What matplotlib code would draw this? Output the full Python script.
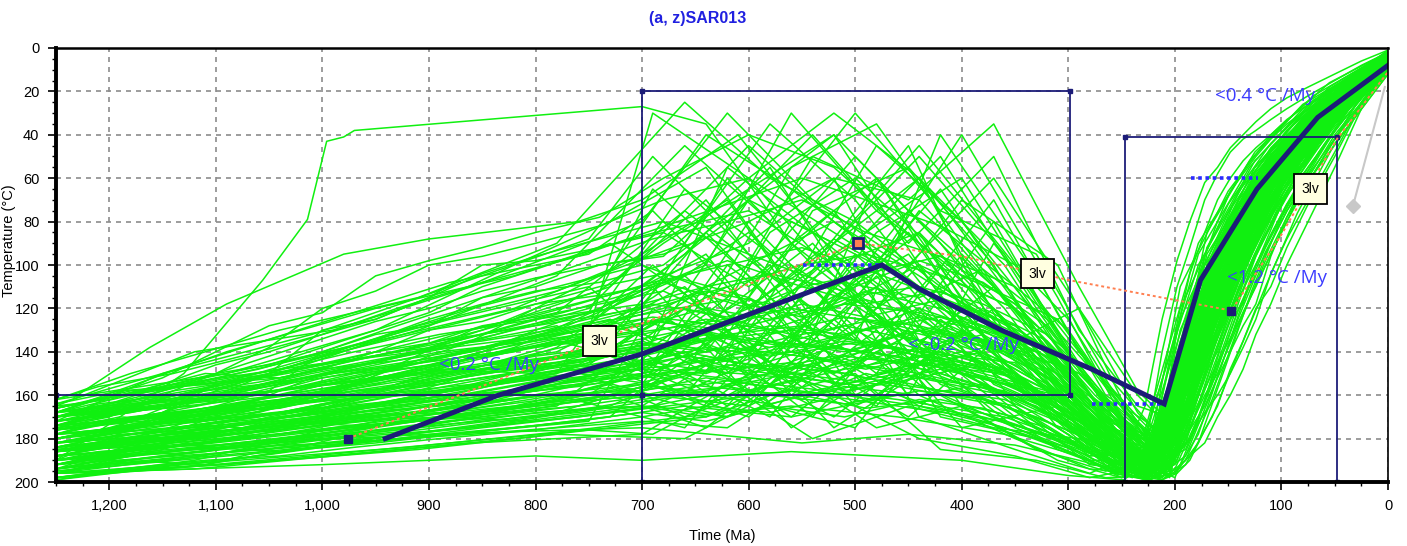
import numpy as np
import matplotlib.pyplot as plt
from matplotlib.ticker import MultipleLocator, FuncFormatter

plt.rcParams['font.family'] = ['Liberation Sans Narrow', 'Liberation Sans', 'DejaVu Sans']

# --- Time nodes (Ma) for the families of modelled paths
t1 = [1250, 1120, 990, 860, 700, 620, 540, 450, 370, 290, 235, 205, 170, 125, 70, 0]
t2 = [1250, 1180, 1040, 910, 780, 660, 580, 500, 420, 330, 265, 215, 185, 140, 95, 40, 0]
t3 = [1250, 1090, 950, 820, 730, 640, 560, 480, 400, 310, 250, 222, 195, 150, 110, 55, 0]
t4 = [1250, 1150, 1010, 880, 750, 690, 600, 520, 440, 350, 280, 228, 178, 130, 80, 0]
t5 = [1250, 1190, 1110, 1040, 970, 890, 800, 700, 640, 580, 510, 440, 380, 320, 275, 240,
      212, 190, 165, 140, 115, 85, 50, 0]
t6 = [1250, 1210, 1140, 1060, 1000, 930, 850, 760, 690, 620, 550, 490, 420, 350, 300, 258,
      226, 200, 178, 152, 128, 100, 65, 30, 0]
t7 = [1250, 1080, 920, 760, 660, 560, 460, 360, 290, 250, 228, 212, 198, 186, 172, 160,
      148, 136, 124, 110, 95, 75, 50, 25, 0]
t8 = [1250, 1200, 1150, 1100, 1050, 1000, 950, 900, 850, 800, 740, 680, 600, 520, 440, 360,
      300, 255, 225, 205, 185, 160, 130, 100, 60, 0]

# temperatures (°C) at those nodes
paths1 = [
    [185, 178, 170, 160, 150, 120, 90, 140, 110, 160, 185, 190, 120, 70, 35, 6],
    [195, 188, 180, 175, 165, 140, 170, 120, 150, 175, 190, 180, 110, 62, 30, 5],
    [170, 160, 150, 140, 120, 60, 100, 45, 130, 150, 175, 195, 130, 80, 38, 8],
    [178, 175, 168, 155, 135, 150, 110, 160, 90, 140, 170, 185, 100, 55, 25, 3],
    [165, 140, 130, 110, 80, 30, 70, 100, 60, 120, 160, 175, 95, 60, 28, 4],
    [190, 185, 182, 178, 172, 175, 150, 130, 170, 185, 195, 188, 140, 90, 42, 10],
    [198, 190, 175, 170, 155, 100, 130, 75, 110, 155, 180, 198, 125, 75, 36, 7],
    [182, 172, 165, 150, 140, 165, 120, 95, 145, 165, 185, 178, 105, 58, 27, 4],
    [175, 168, 160, 130, 110, 80, 40, 90, 50, 130, 165, 170, 85, 48, 22, 2],
    [188, 183, 176, 168, 158, 130, 160, 150, 120, 170, 192, 193, 135, 85, 40, 9],
    [170, 165, 150, 142, 130, 110, 145, 170, 135, 150, 178, 182, 115, 65, 33, 6],
    [192, 180, 172, 165, 145, 55, 85, 120, 70, 140, 172, 186, 118, 68, 32, 5],
    [168, 162, 155, 148, 125, 140, 75, 55, 100, 165, 188, 176, 102, 60, 30, 6],
    [196, 194, 188, 182, 178, 155, 180, 165, 175, 180, 197, 191, 145, 95, 44, 11],
    [180, 170, 158, 135, 95, 70, 125, 85, 140, 120, 168, 184, 112, 64, 31, 5],
    [186, 176, 169, 162, 148, 125, 100, 135, 80, 148, 182, 194, 128, 78, 37, 7],
    [174, 158, 140, 120, 100, 115, 50, 70, 35, 110, 158, 172, 92, 52, 24, 3],
    [194, 186, 178, 168, 160, 170, 140, 110, 155, 172, 186, 189, 132, 82, 39, 8],
]
paths2 = [
    [176, 172, 160, 150, 140, 110, 150, 95, 130, 140, 170, 188, 150, 90, 55, 25, 5],
    [190, 186, 178, 170, 160, 175, 130, 145, 100, 150, 182, 196, 165, 100, 60, 28, 6],
    [168, 160, 148, 130, 105, 45, 80, 30, 75, 95, 150, 178, 135, 80, 48, 20, 3],
    [184, 180, 170, 162, 150, 130, 100, 160, 140, 175, 188, 182, 125, 72, 42, 18, 2],
    [196, 190, 182, 176, 168, 150, 170, 120, 160, 185, 195, 190, 170, 110, 68, 32, 8],
    [172, 168, 155, 140, 128, 160, 115, 90, 50, 120, 165, 184, 145, 88, 52, 24, 4],
    [180, 174, 165, 158, 138, 95, 55, 115, 155, 170, 184, 194, 160, 96, 58, 27, 6],
    [162, 150, 130, 115, 90, 25, 60, 80, 110, 135, 172, 180, 120, 70, 40, 17, 2],
    [188, 182, 176, 168, 155, 140, 165, 175, 125, 160, 190, 198, 175, 115, 72, 35, 10],
    [178, 170, 162, 150, 135, 150, 85, 60, 95, 150, 178, 186, 140, 84, 50, 22, 4],
    [194, 188, 180, 172, 165, 120, 145, 100, 170, 180, 193, 188, 155, 94, 56, 26, 6],
    [166, 158, 152, 140, 122, 75, 105, 135, 40, 105, 160, 176, 118, 66, 38, 15, 1],
    [186, 178, 168, 155, 145, 170, 155, 130, 150, 165, 186, 192, 162, 102, 62, 29, 7],
    [174, 166, 150, 128, 112, 90, 35, 70, 120, 140, 174, 183, 130, 76, 45, 20, 3],
    [199, 195, 190, 185, 178, 180, 160, 150, 185, 190, 198, 197, 180, 120, 75, 38, 12],
    [182, 176, 160, 145, 130, 105, 140, 110, 65, 130, 168, 185, 148, 86, 53, 23, 4],
    [170, 164, 158, 150, 142, 135, 120, 165, 145, 160, 180, 190, 158, 98, 60, 27, 5],
    [192, 184, 174, 160, 150, 65, 95, 50, 90, 145, 176, 194, 168, 106, 64, 30, 7],
]
paths3 = [
    [188, 175, 162, 150, 142, 160, 100, 125, 150, 170, 190, 196, 150, 92, 58, 26, 5],
    [172, 155, 140, 125, 110, 70, 120, 150, 95, 140, 180, 190, 130, 80, 48, 20, 3],
    [195, 188, 182, 175, 170, 130, 155, 60, 115, 160, 185, 193, 160, 98, 60, 28, 6],
    [180, 165, 150, 135, 125, 150, 80, 100, 40, 115, 170, 184, 120, 72, 44, 18, 2],
    [166, 150, 135, 120, 102, 40, 65, 95, 130, 155, 178, 195, 145, 88, 54, 24, 4],
    [190, 184, 176, 168, 160, 175, 145, 165, 120, 175, 194, 188, 165, 104, 63, 30, 8],
    [176, 168, 155, 138, 118, 100, 30, 75, 105, 125, 165, 180, 110, 66, 40, 16, 2],
    [184, 178, 170, 162, 152, 120, 140, 110, 165, 180, 192, 197, 170, 108, 66, 32, 9],
    [162, 150, 130, 100, 80, 55, 110, 45, 80, 135, 172, 186, 138, 84, 50, 22, 3],
    [198, 190, 180, 172, 165, 145, 170, 140, 155, 185, 196, 199, 178, 114, 70, 34, 10],
    [178, 170, 158, 148, 135, 85, 125, 160, 130, 150, 182, 189, 142, 86, 52, 23, 4],
    [170, 162, 150, 140, 128, 140, 90, 120, 70, 100, 162, 182, 125, 76, 46, 19, 2],
    [192, 180, 165, 152, 140, 110, 160, 130, 175, 165, 186, 192, 155, 95, 58, 27, 6],
    [182, 176, 168, 160, 148, 165, 135, 85, 60, 130, 176, 187, 135, 82, 49, 21, 3],
    [168, 140, 120, 105, 90, 120, 55, 35, 90, 145, 180, 194, 148, 90, 55, 25, 5],
    [186, 180, 174, 165, 155, 130, 175, 150, 140, 170, 190, 191, 158, 97, 59, 27, 6],
    [174, 160, 145, 130, 120, 95, 145, 105, 150, 160, 184, 196, 165, 102, 62, 29, 7],
    [196, 192, 186, 180, 175, 170, 150, 175, 165, 190, 198, 186, 140, 85, 51, 22, 4],
]
paths4 = [
    [178, 168, 155, 142, 128, 100, 140, 90, 60, 140, 175, 192, 110, 62, 32, 5],
    [192, 186, 178, 170, 160, 140, 115, 150, 130, 165, 188, 186, 130, 75, 38, 7],
    [170, 158, 142, 125, 110, 135, 70, 40, 100, 120, 165, 180, 95, 55, 28, 4],
    [186, 180, 172, 164, 152, 160, 165, 125, 160, 180, 194, 196, 140, 82, 42, 9],
    [164, 150, 132, 110, 88, 50, 95, 130, 75, 110, 160, 178, 100, 58, 30, 4],
    [196, 190, 184, 178, 172, 120, 150, 170, 140, 175, 190, 190, 125, 72, 36, 6],
    [174, 165, 150, 138, 120, 90, 45, 80, 110, 150, 182, 194, 135, 78, 40, 8],
    [182, 176, 166, 150, 135, 150, 125, 100, 170, 185, 196, 185, 118, 68, 34, 6],
    [168, 160, 148, 135, 122, 65, 105, 155, 120, 135, 170, 183, 105, 60, 30, 5],
    [190, 182, 170, 160, 145, 110, 160, 115, 85, 155, 185, 197, 145, 88, 44, 10],
    [176, 170, 160, 150, 140, 145, 80, 60, 135, 170, 186, 188, 128, 74, 37, 7],
    [198, 194, 188, 182, 176, 178, 155, 160, 180, 188, 198, 193, 150, 92, 46, 11],
    [172, 150, 128, 108, 95, 75, 120, 90, 45, 100, 155, 176, 90, 52, 26, 3],
    [184, 178, 170, 158, 146, 125, 135, 175, 150, 160, 180, 187, 120, 70, 35, 6],
    [166, 156, 146, 138, 130, 30, 60, 105, 140, 145, 176, 190, 115, 66, 33, 5],
    [188, 184, 176, 170, 162, 155, 170, 140, 100, 165, 192, 195, 138, 80, 41, 8],
    [180, 172, 160, 145, 132, 115, 85, 120, 155, 175, 188, 184, 122, 71, 36, 7],
    [194, 188, 180, 172, 166, 165, 145, 95, 125, 150, 184, 191, 132, 77, 39, 8],
]
paths5 = [
    [182, 180, 174, 176, 168, 165, 158, 150, 142, 148, 136, 140, 132, 150, 170, 185, 192, 160, 118, 92, 70, 48, 28, 5],
    [196, 190, 192, 184, 181, 176, 170, 162, 158, 150, 155, 145, 152, 165, 178, 194, 198, 178, 140, 108, 82, 58, 34, 8],
    [170, 166, 160, 158, 150, 146, 138, 132, 125, 130, 118, 122, 128, 140, 165, 180, 186, 150, 110, 84, 62, 42, 24, 4],
    [188, 186, 178, 172, 174, 166, 160, 155, 160, 146, 150, 138, 145, 160, 182, 190, 176, 132, 98, 74, 55, 38, 20, 3],
    [176, 170, 172, 164, 160, 150, 146, 140, 132, 138, 128, 135, 120, 135, 160, 176, 195, 170, 130, 100, 76, 52, 30, 6],
    [192, 188, 184, 186, 178, 174, 168, 165, 170, 160, 164, 158, 162, 172, 186, 196, 190, 185, 155, 120, 92, 64, 38, 9],
    [166, 160, 150, 152, 144, 135, 128, 120, 112, 118, 108, 115, 102, 125, 150, 172, 182, 140, 102, 78, 58, 40, 22, 3],
    [184, 178, 176, 170, 165, 162, 154, 148, 150, 140, 145, 150, 138, 155, 175, 188, 196, 182, 145, 112, 86, 60, 35, 7],
    [198, 194, 190, 188, 184, 180, 176, 170, 165, 168, 160, 165, 170, 178, 190, 198, 185, 165, 125, 96, 72, 50, 29, 5],
    [172, 168, 164, 160, 155, 148, 150, 142, 135, 128, 132, 124, 130, 148, 168, 182, 193, 174, 135, 104, 78, 54, 31, 6],
    [186, 182, 180, 175, 170, 168, 160, 158, 152, 156, 148, 142, 150, 158, 176, 192, 199, 190, 162, 128, 98, 68, 40, 10],
    [178, 175, 168, 166, 158, 155, 148, 138, 145, 135, 140, 130, 135, 145, 172, 186, 180, 138, 104, 80, 60, 42, 23, 3],
    [194, 188, 186, 180, 176, 170, 172, 166, 160, 164, 156, 160, 155, 168, 184, 194, 196, 188, 158, 124, 94, 66, 38, 8],
    [168, 164, 158, 154, 148, 140, 135, 128, 120, 125, 115, 110, 118, 132, 158, 178, 188, 160, 120, 90, 68, 46, 26, 4],
    [190, 186, 182, 178, 172, 170, 165, 160, 155, 150, 158, 152, 145, 162, 180, 190, 194, 176, 150, 126, 100, 70, 42, 11],
    [174, 172, 166, 162, 156, 150, 142, 136, 140, 132, 124, 128, 136, 152, 174, 188, 198, 180, 138, 106, 80, 56, 32, 6],
    [180, 176, 172, 168, 162, 158, 150, 145, 138, 142, 135, 140, 128, 142, 166, 184, 190, 168, 128, 98, 74, 50, 28, 5],
    [198, 195, 192, 186, 182, 178, 174, 168, 172, 165, 170, 162, 166, 175, 188, 197, 199, 192, 170, 140, 110, 76, 44, 12],
    [164, 158, 155, 148, 140, 132, 125, 118, 110, 104, 112, 98, 108, 128, 155, 175, 184, 145, 108, 82, 60, 41, 22, 3],
    [186, 184, 178, 174, 170, 164, 158, 152, 146, 150, 142, 146, 140, 156, 178, 190, 187, 170, 132, 102, 76, 52, 30, 5],
]
paths6 = [
    [178, 172, 170, 162, 158, 150, 140, 130, 120, 110, 100, 95, 105, 120, 140, 165, 185, 190, 150, 112, 84, 58, 36, 16, 3],
    [192, 188, 182, 178, 172, 168, 160, 152, 145, 150, 140, 135, 145, 150, 168, 182, 196, 175, 135, 100, 74, 50, 30, 14, 2],
    [168, 162, 156, 148, 140, 128, 115, 100, 88, 80, 70, 85, 96, 110, 130, 160, 180, 188, 160, 120, 92, 64, 40, 18, 4],
    [184, 180, 176, 170, 166, 160, 155, 148, 140, 132, 128, 136, 128, 140, 160, 178, 192, 198, 172, 130, 98, 68, 42, 20, 5],
    [196, 192, 190, 184, 180, 176, 170, 165, 160, 156, 162, 150, 158, 165, 180, 192, 199, 185, 142, 106, 78, 54, 33, 15, 3],
    [172, 170, 164, 160, 152, 146, 138, 126, 118, 124, 110, 118, 112, 130, 152, 170, 186, 170, 126, 94, 70, 48, 28, 12, 2],
    [188, 184, 180, 174, 170, 165, 158, 150, 155, 146, 150, 142, 150, 160, 175, 188, 194, 192, 165, 126, 95, 66, 40, 18, 4],
    [162, 156, 150, 140, 132, 120, 108, 96, 84, 72, 60, 70, 82, 100, 125, 158, 178, 182, 145, 108, 80, 56, 34, 15, 3],
    [182, 178, 172, 168, 160, 155, 148, 142, 136, 140, 132, 126, 134, 146, 165, 182, 196, 196, 178, 140, 105, 72, 44, 21, 6],
    [176, 172, 168, 166, 160, 156, 150, 145, 138, 132, 138, 130, 124, 136, 158, 176, 190, 165, 122, 90, 68, 46, 27, 12, 2],
    [194, 190, 186, 182, 178, 172, 168, 160, 156, 160, 152, 156, 148, 156, 172, 186, 198, 188, 150, 114, 86, 60, 37, 17, 3],
    [170, 166, 158, 152, 146, 140, 130, 118, 108, 100, 92, 102, 115, 128, 148, 172, 188, 178, 140, 104, 78, 54, 32, 14, 2],
    [186, 182, 178, 172, 168, 162, 156, 150, 145, 138, 142, 148, 140, 150, 170, 186, 194, 194, 170, 134, 100, 70, 43, 20, 5],
    [166, 162, 156, 152, 146, 140, 135, 128, 122, 116, 124, 112, 120, 134, 155, 172, 184, 160, 118, 88, 66, 45, 27, 12, 2],
    [199, 196, 192, 188, 184, 180, 175, 170, 165, 170, 160, 166, 162, 170, 184, 196, 199, 196, 182, 146, 112, 78, 48, 23, 7],
    [180, 176, 170, 165, 158, 150, 142, 134, 126, 130, 122, 116, 126, 142, 162, 180, 192, 182, 146, 110, 82, 57, 35, 16, 3],
    [174, 168, 164, 156, 150, 142, 132, 120, 110, 98, 110, 104, 96, 118, 142, 166, 184, 186, 155, 118, 88, 61, 38, 17, 4],
    [190, 186, 184, 178, 174, 170, 164, 158, 150, 155, 146, 152, 144, 152, 170, 184, 193, 170, 128, 96, 72, 49, 30, 13, 2],
    [184, 180, 175, 170, 164, 158, 152, 146, 152, 144, 136, 140, 146, 155, 172, 188, 197, 190, 160, 122, 90, 62, 38, 17, 4],
    [170, 164, 160, 154, 148, 144, 138, 130, 124, 128, 118, 124, 116, 128, 150, 170, 182, 176, 136, 100, 75, 52, 31, 14, 2],
]
paths7 = [
    [180, 168, 155, 140, 130, 138, 126, 140, 160, 178, 185, 140, 110, 92, 70, 58, 48, 42, 38, 33, 28, 22, 15, 8, 2],
    [172, 160, 150, 146, 120, 132, 145, 150, 170, 190, 165, 125, 98, 80, 62, 55, 46, 40, 34, 28, 23, 18, 12, 6, 1],
    [190, 182, 175, 168, 160, 150, 156, 165, 178, 196, 192, 175, 130, 104, 85, 70, 60, 52, 46, 40, 33, 26, 18, 10, 3],
    [176, 165, 160, 150, 140, 150, 132, 145, 165, 184, 195, 188, 150, 118, 96, 80, 66, 58, 50, 42, 35, 28, 19, 10, 2],
    [186, 178, 170, 160, 150, 156, 162, 170, 182, 192, 198, 196, 194, 188, 182, 170, 160, 148, 132, 118, 100, 80, 55, 28, 8],
    [194, 186, 180, 172, 165, 170, 160, 175, 186, 196, 190, 194, 186, 180, 168, 160, 150, 138, 125, 104, 88, 70, 48, 25, 7],
    [170, 160, 150, 142, 136, 130, 138, 150, 168, 182, 190, 196, 188, 176, 165, 152, 140, 128, 118, 96, 78, 62, 42, 22, 5],
    [182, 176, 168, 158, 145, 140, 150, 160, 176, 188, 196, 199, 196, 190, 176, 165, 148, 135, 120, 110, 92, 72, 50, 26, 9],
    [188, 180, 172, 165, 150, 145, 155, 162, 176, 190, 196, 180, 165, 140, 138, 118, 105, 100, 80, 70, 60, 48, 34, 18, 4],
    [178, 170, 162, 155, 142, 148, 136, 150, 168, 186, 192, 188, 172, 150, 130, 128, 110, 96, 88, 72, 58, 45, 30, 16, 3],
    [192, 186, 178, 170, 164, 158, 165, 172, 184, 195, 199, 192, 180, 162, 145, 132, 120, 112, 96, 82, 66, 50, 35, 18, 5],
    [168, 158, 146, 135, 128, 120, 128, 140, 160, 178, 188, 176, 150, 128, 112, 100, 88, 76, 66, 56, 46, 36, 24, 12, 2],
    [184, 176, 170, 162, 155, 160, 150, 158, 172, 188, 194, 190, 184, 168, 150, 140, 125, 118, 100, 86, 72, 55, 38, 20, 6],
    [174, 166, 158, 150, 146, 136, 142, 155, 170, 185, 190, 182, 160, 136, 122, 108, 98, 84, 74, 62, 52, 40, 27, 14, 3],
    [196, 190, 184, 176, 170, 165, 170, 178, 188, 198, 196, 198, 190, 175, 160, 150, 136, 122, 110, 95, 80, 62, 42, 22, 6],
    [180, 172, 164, 156, 148, 152, 140, 148, 165, 182, 188, 170, 142, 118, 100, 92, 80, 70, 60, 50, 42, 34, 22, 11, 2],
]
paths8 = [
    [175, 170, 160, 150, 138, 120, 112, 100, 96, 90, 82, 70, 60, 85, 110, 140, 165, 185, 195, 175, 130, 100, 75, 50, 30, 4],
    [190, 180, 168, 155, 150, 130, 125, 115, 100, 98, 92, 85, 110, 75, 130, 150, 175, 192, 184, 160, 120, 92, 70, 45, 25, 3],
    [168, 160, 152, 140, 128, 122, 105, 98, 92, 85, 78, 60, 40, 55, 90, 125, 160, 182, 196, 188, 150, 112, 84, 58, 34, 6],
    [182, 178, 170, 165, 158, 140, 132, 128, 115, 110, 100, 95, 80, 120, 100, 135, 170, 190, 198, 180, 140, 104, 78, 54, 32, 5],
    [196, 190, 185, 178, 172, 166, 158, 150, 140, 130, 120, 105, 90, 60, 70, 115, 150, 180, 194, 185, 148, 110, 82, 56, 33, 6],
    [172, 168, 165, 155, 150, 146, 140, 136, 128, 124, 118, 112, 130, 95, 140, 160, 178, 196, 190, 165, 125, 95, 72, 48, 28, 4],
    [186, 176, 166, 160, 150, 142, 134, 125, 118, 112, 108, 100, 70, 90, 50, 95, 140, 172, 190, 194, 160, 120, 90, 62, 38, 8],
    [178, 172, 168, 160, 154, 148, 140, 130, 126, 118, 110, 104, 115, 135, 120, 150, 172, 188, 186, 170, 135, 102, 76, 52, 31, 5],
    [194, 186, 178, 170, 160, 150, 145, 138, 130, 120, 112, 90, 65, 40, 80, 120, 160, 185, 196, 190, 155, 118, 88, 60, 36, 7],
    [165, 162, 155, 146, 140, 132, 125, 115, 104, 96, 88, 80, 95, 110, 135, 148, 168, 186, 194, 178, 142, 106, 80, 55, 32, 5],
    [184, 182, 176, 168, 164, 158, 150, 146, 140, 135, 128, 120, 100, 80, 105, 130, 165, 190, 199, 196, 170, 130, 96, 66, 40, 9],
    [176, 166, 158, 150, 142, 134, 126, 120, 112, 106, 100, 96, 60, 30, 60, 100, 145, 176, 192, 182, 145, 108, 80, 55, 32, 5],
    [188, 184, 178, 174, 166, 160, 152, 148, 142, 136, 130, 125, 140, 160, 150, 165, 180, 194, 197, 185, 152, 115, 86, 60, 36, 7],
    [170, 164, 156, 150, 146, 138, 130, 122, 110, 102, 92, 84, 75, 100, 85, 125, 162, 184, 192, 172, 132, 100, 75, 50, 30, 4],
    [192, 188, 182, 176, 170, 166, 160, 155, 150, 144, 140, 138, 150, 142, 165, 175, 186, 196, 199, 192, 165, 125, 92, 64, 38, 8],
    [180, 175, 168, 158, 150, 142, 136, 130, 124, 118, 114, 108, 120, 88, 110, 145, 170, 190, 196, 184, 146, 108, 80, 56, 33, 6],
]

# a few paths with their own nodes
odd_t = [
    [1250, 1130, 1056, 1014, 1003, 996, 980, 970, 700, 640, 560, 480, 400, 310, 250, 222, 195, 150, 110, 55, 0],
    [1233, 1162, 1090, 980, 900, 760, 700, 610, 520, 430, 330, 262, 218, 190, 145, 100, 45, 0],
    [1250, 1000, 800, 700, 560, 400, 300, 248, 210, 180, 140, 90, 40, 0],
    [1250, 1100, 900, 700, 550, 450, 350, 290, 245, 205, 170, 125, 70, 0],
]
odd_T = [
    [190, 150, 107, 79, 57, 43, 41, 38, 27, 35, 90, 60, 120, 140, 180, 190, 150, 90, 55, 25, 4],
    [161, 138, 118, 95, 88, 80, 70, 40, 95, 65, 130, 175, 192, 160, 100, 62, 24, 5],
    [196, 192, 188, 190, 186, 190, 197, 199, 185, 140, 90, 50, 20, 4],
    [185, 183, 178, 175, 182, 178, 183, 190, 196, 175, 120, 72, 35, 6],
]

# best-fit path
best_t = [941, 835, 700, 475, 440, 363, 278, 210, 176, 123, 66, 0]
best_T = [180, 160, 141, 100, 111, 130, 148, 164, 107, 65, 32, 8]

# mean (dotted) path and its control points
mean_t = [976, 700, 497, 400, 299, 147, 100, 48, 0]
mean_T = [180, 127, 90, 96, 107, 121, 86, 42, 11]

# constraint boxes: t_old, t_young, T_top, T_bottom
box_t0 = [1250, 700, 247]
box_t1 = [700, 298, 48]
box_T0 = [160, 20, 41]
box_T1 = [200, 160, 200]

# rate labels
rate_txt = ['<0.2 °C /My', '< -0.2 °C /My', '<1.2 °C /My', '<0.4 °C /My']
rate_t = [844, 398, 104, 115]
rate_T = [146, 137, 106, 22]

# segment markers "3lv"
lv_t = [740, 329, 73]
lv_T = [135, 104, 65]

# dotted rate bars
bar_t0 = [549, 278, 185]
bar_t1 = [477, 210, 122]
bar_T = [100, 164, 60]

fig = plt.figure(figsize=(14.07, 5.46), dpi=100)
ax = fig.add_axes([0.0398, 0.1172, 0.9467, 0.7949])

green = '#10f010'
groups = [(t1, paths1), (t2, paths2), (t3, paths3), (t4, paths4),
          (t5, paths5), (t6, paths6), (t7, paths7), (t8, paths8)]
for tt, group in groups:
    for p in group:
        ax.plot(tt, p, color=green, lw=1.1, zorder=2)
for tt, p in zip(odd_t, odd_T):
    ax.plot(tt, p, color=green, lw=1.1, zorder=2)

navy = '#1c1c78'
for a, b, c, d in zip(box_t0, box_t1, box_T0, box_T1):
    ax.plot([a, b, b, a, a], [c, c, d, d, c], color=navy, lw=1.3, zorder=4)
    ax.plot([a, b, b, a], [c, c, d, d], 's', color=navy, ms=3.5, zorder=4)

for a, b, c in zip(bar_t0, bar_t1, bar_T):
    ax.plot([a, b], [c, c], color='#2a2aff', lw=2.6, ls=(0, (1, 1)), zorder=5)

ax.plot(mean_t, mean_T, color='#ff7f50', lw=1.4, ls=(0, (1.5, 1.5)), zorder=5)
ax.plot([mean_t[0]], [mean_T[0]], 's', color=navy, ms=6, zorder=6)
ax.plot([mean_t[2]], [mean_T[2]], 's', color=navy, mfc='#ff7f50', mew=2, ms=7, zorder=6)
ax.plot([mean_t[5]], [mean_T[5]], 's', color=navy, ms=6, zorder=6)

ax.plot(best_t, best_T, color=navy, lw=3.6, solid_joinstyle='miter', zorder=6)

# grey trend stub ending in a diamond
ax.plot([3, 33], [18, 73], color='#c8c8c8', lw=1.5, zorder=5)
ax.plot([33], [73], 'D', color='#c8c8c8', ms=7, zorder=5)

for s, x, y in zip(rate_txt, rate_t, rate_T):
    ax.text(x, y, s, color='#3c3cff', fontsize=13.5, ha='center', va='center',
            family=['Open Sans', 'DejaVu Sans'], zorder=7)

for x, y in zip(lv_t, lv_T):
    ax.text(x, y, '3lv', fontsize=10, ha='center', va='center', zorder=8,
            bbox=dict(boxstyle='square,pad=0.55', fc='#ffffe0', ec='black', lw=1.3))

ax.set_xlim(1250, 0)
ax.set_ylim(200, 0)
ax.xaxis.set_major_locator(MultipleLocator(100))
ax.xaxis.set_minor_locator(MultipleLocator(25))
ax.yaxis.set_major_locator(MultipleLocator(20))
ax.yaxis.set_minor_locator(MultipleLocator(5))
ax.xaxis.set_major_formatter(FuncFormatter(lambda v, pos: '{:,}'.format(int(v))))
ax.tick_params(which='major', direction='out', length=6, width=1.2, labelsize=10.5, pad=6)
ax.tick_params(which='minor', direction='out', length=3, width=1.0)
ax.grid(True, which='major', color='#8c8c8c', ls=(0, (3, 3)), lw=1.2, zorder=1)

ax.spines['left'].set_linewidth(2.8)
ax.spines['bottom'].set_linewidth(2.8)
ax.spines['top'].set_linewidth(1.8)
ax.spines['right'].set_linewidth(1.2)
for s in ax.spines.values():
    s.set_zorder(9)

ax.set_xlabel('Time (Ma)', fontsize=10.5, labelpad=12)
ax.set_ylabel('Temperature (°C)', fontsize=10.5, va='center')
ax.yaxis.set_label_coords(-0.0355, 0.555)
fig.text(0.496, 0.966, '(a, z)SAR013', color='#2020e0', fontsize=11.5,
         fontweight='bold', ha='center', va='center')

fig.savefig('out.png', dpi=100)
